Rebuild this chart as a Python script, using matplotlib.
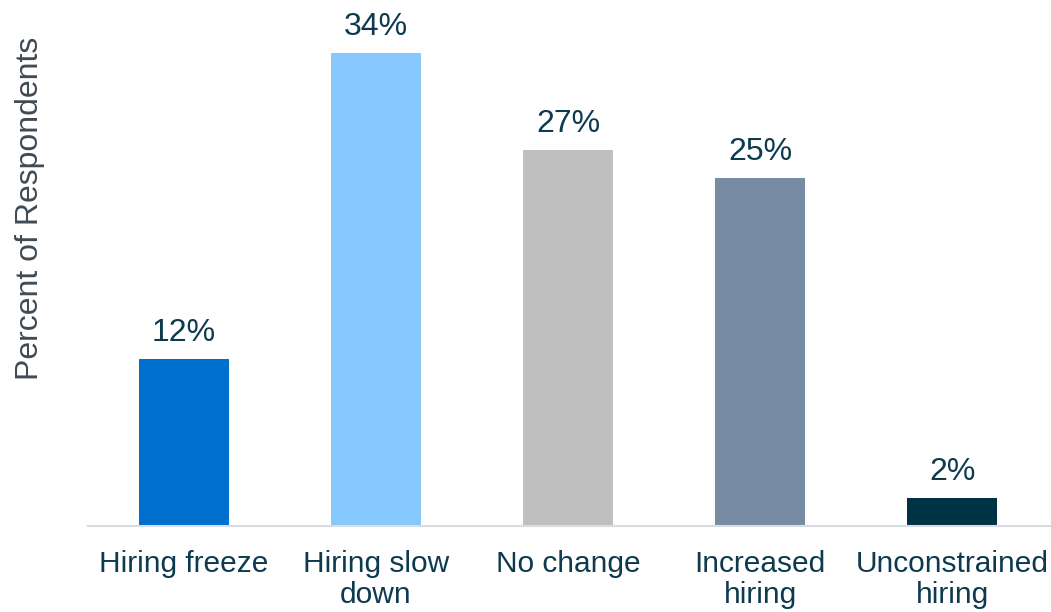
import matplotlib
matplotlib.use('Agg')
import matplotlib.pyplot as plt

plt.rcParams['font.family'] = ['Liberation Sans', 'DejaVu Sans']

categories = ['Hiring freeze', 'Hiring slow\ndown', 'No change', 'Increased\nhiring', 'Unconstrained\nhiring']
values = [12, 34, 27, 25, 2]
colors = ['#0070CF', '#87C9FE', '#BFBFBF', '#778CA2', '#003246']
text_color = '#0D3A4E'

fig = plt.figure(figsize=(10.51, 6.12), dpi=100)
ax = fig.add_axes([88 / 1051, 1 - 526 / 612, 1 - 88 / 1051, 526 / 612])

x = range(len(categories))
bars = ax.bar(x, values, width=0.47, color=colors)

for b, v in zip(bars, values):
    ax.annotate(f'{v}%', (b.get_x() + b.get_width() / 2, v), xytext=(0, 8),
                textcoords='offset points', ha='center', va='bottom',
                fontsize=23, color=text_color)

ax.set_xlim(-0.5, 4.515)
ax.set_ylim(0, 37.8)
ax.set_xticks(list(x))
ax.set_xticklabels(categories, fontsize=21.5, color=text_color, linespacing=1.15)
ax.tick_params(axis='x', length=0, pad=17)
ax.set_yticks([])
for s in ['top', 'right', 'left']:
    ax.spines[s].set_visible(False)
ax.spines['bottom'].set_color('#D9DDE3')
ax.spines['bottom'].set_linewidth(1.5)

fig.text(30 / 1051, 1 - 208 / 612, 'Percent of Respondents', rotation=90,
         ha='center', va='center', fontsize=23, color='#404A53')

fig.savefig('out.png', dpi=100)
